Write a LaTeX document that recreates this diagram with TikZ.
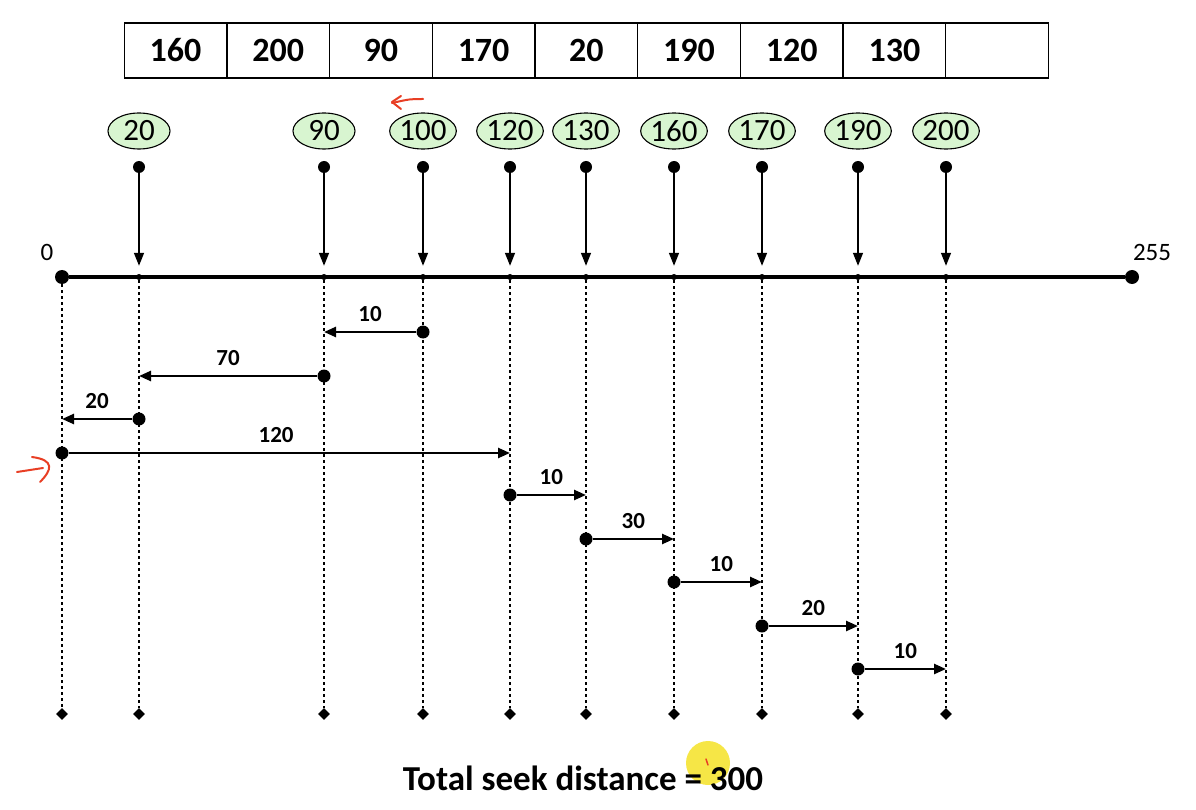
\documentclass[tikz,border=0pt]{standalone}
\usepackage{fontspec}
\setmainfont{Carlito}
\usetikzlibrary{shapes.geometric, arrows.meta, positioning}
\definecolor{reqgreen}{RGB}{216,245,208}
\definecolor{penred}{RGB}{232,62,36}
\definecolor{marker}{RGB}{246,230,70}

\begin{document}
\begin{tikzpicture}[x=1pt, y=-1pt,
  cell/.style={rectangle, draw, line width=1.3pt, minimum width=102.7pt, minimum height=55pt, outer sep=0pt, inner sep=0pt, font=\fontsize{34}{34}\selectfont\bfseries},
  req/.style={ellipse, draw, line width=1.1pt, fill=reqgreen, minimum width=62pt, minimum height=36pt, inner sep=0pt, font=\fontsize{31}{31}\selectfont},
  dot/.style={circle, fill, inner sep=0pt, minimum size=12pt},
  tick/.style={circle, fill, inner sep=0pt, minimum size=6pt},
  enddot/.style={circle, fill, inner sep=0pt, minimum size=14pt},
  diam/.style={diamond, fill, inner sep=0pt, minimum size=12pt},
  head/.style={circle, fill, inner sep=0pt, minimum size=13pt},
  feed/.style={-{Triangle[width=10pt,length=13pt]}, line width=1.4pt, shorten >=8pt},
  track/.style={line width=2.8pt, dash pattern=on 3pt off 3pt},
  seek/.style={-{Triangle[width=10pt,length=12pt]}, line width=2.5pt},
  dist/.style={above, inner sep=9pt, font=\fontsize{23}{23}\selectfont\bfseries},
  pen/.style={penred, line width=2pt, line cap=round, line join=round}]

\useasboundingbox (0,0) rectangle (1196,810);

% Request queue
\node[cell] (c1) at (175.5,50.5) {160};
\node[cell, right=0pt of c1] (c2) {200};
\node[cell, right=0pt of c2] (c3) {90};
\node[cell, right=0pt of c3] (c4) {170};
\node[cell, right=0pt of c4] (c5) {20};
\node[cell, right=0pt of c5] (c6) {190};
\node[cell, right=0pt of c6] (c7) {120};
\node[cell, right=0pt of c7] (c8) {130};
\node[cell, right=0pt of c8] (c9) {};

% Disk axis
\node[enddot] (t0) at (62,277) {};
\node[enddot] (t255) at (1132,277) {};
\draw[line width=4pt] (t0) -- (t255);
\node[font=\fontsize{25}{25}\selectfont] (lo) at (47,252) {0};
\node[font=\fontsize{25}{25}\selectfont] (hi) at (1152,252) {255};
\node[diam] (b0) at (62,714) {};
\draw[track] (t0) -- (b0);

% Requested tracks
\foreach \v/\x in {20/139, 90/324, 100/423, 120/510, 130/586, 160/674, 170/762, 190/858, 200/946} {
  \node[req] (r\v) at (\x,131) {\v};
  \node[dot] (d\v) at (\x,167) {};
  \node[tick] (t\v) at (\x,277) {};
  \node[diam] (b\v) at (\x,714) {};
  \draw[feed] (d\v) -- (t\v);
  \draw[track] (t\v) -- (b\v);
}

% Head movement
\node[head] (s1) at (t100 |- 0,332) {};
\draw[seek] (s1) -- (t90 |- s1) node[dist, midway] {10};
\node[head] (s2) at (t90 |- 0,376) {};
\draw[seek] (s2) -- (t20 |- s2) node[dist, midway] {70};
\node[head] (s3) at (t20 |- 0,419) {};
\draw[seek] (s3) -- (t0 |- s3) node[dist, midway] {20};
\node[head] (s4) at (t0 |- 0,453) {};
\draw[seek] (s4) -- (t120 |- s4) node[dist, pos=0.47] {120};
\node[head] (s5) at (t120 |- 0,495) {};
\draw[seek] (s5) -- (t130 |- s5) node[dist, midway] {10};
\node[head] (s6) at (t130 |- 0,539) {};
\draw[seek] (s6) -- (t160 |- s6) node[dist, midway] {30};
\node[head] (s7) at (t160 |- 0,582) {};
\draw[seek] (s7) -- (t170 |- s7) node[dist, midway] {10};
\node[head] (s8) at (t170 |- 0,626) {};
\draw[seek] (s8) -- (t190 |- s8) node[dist, midway] {20};
\node[head] (s9) at (t190 |- 0,669) {};
\draw[seek] (s9) -- (t200 |- s9) node[dist, midway] {10};

% Total
\node[circle, fill=marker, minimum size=44pt] (hl) at (708,763) {};
\node[font=\fontsize{35}{35}\selectfont\bfseries] (total) at (583,778) {Total seek distance = 300};

% Pen marks
\draw[pen] (423,99) .. controls (410,99) .. (392,103);
\draw[pen] (401,96) -- (392,102) -- (401,109);
\draw[pen] (17,472) -- (43,468);
\draw[pen] (32,457) .. controls (55,460) and (52,470) .. (40,482);
\draw[pen, line width=1.5pt] (706,759) -- (708,765);

\end{tikzpicture}
\end{document}
